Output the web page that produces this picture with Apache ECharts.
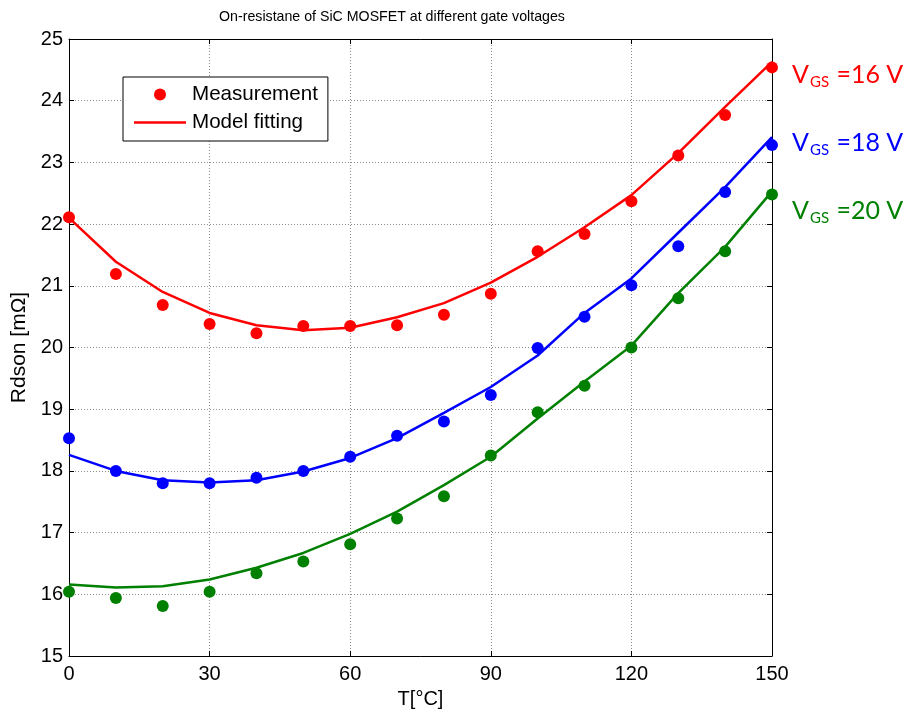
<!DOCTYPE html>
<html>
<head>
<meta charset="utf-8">
<script src="https://cdn.jsdelivr.net/npm/echarts@6/dist/echarts.min.js"></script>
<style>
  html, body { margin: 0; padding: 0; background: #fff; }
  #chart { width: 908px; height: 715px; }
</style>
</head>
<body>
<div id="chart"></div>
<script>
// temperatures, degC
var temps = [0, 10, 20, 30, 40, 50, 60, 70, 80, 90, 100, 110, 120, 130, 140, 150];

// measured Rdson, mOhm
var meas16 = [22.11, 21.19, 20.69, 20.38, 20.23, 20.35, 20.35, 20.36, 20.53, 20.87, 21.56, 21.84, 22.37, 23.11, 23.77, 24.54];
var meas18 = [18.53, 18.0, 17.8, 17.8, 17.89, 18.0, 18.23, 18.57, 18.8, 19.23, 19.99, 20.5, 21.01, 21.64, 22.52, 23.28];
var meas20 = [16.04, 15.94, 15.81, 16.04, 16.34, 16.53, 16.81, 17.23, 17.59, 18.25, 18.95, 19.38, 20.0, 20.8, 21.56, 22.48];

// model fitting
var fit16 = [22.1, 21.39, 20.9, 20.56, 20.36, 20.28, 20.32, 20.49, 20.72, 21.05, 21.47, 21.95, 22.47, 23.15, 23.9, 24.63];
var fit18 = [18.26, 18.0, 17.85, 17.81, 17.85, 17.99, 18.21, 18.53, 18.94, 19.36, 19.87, 20.56, 21.12, 21.86, 22.6, 23.41];
var fit20 = [16.16, 16.11, 16.13, 16.24, 16.43, 16.67, 16.98, 17.34, 17.77, 18.23, 18.85, 19.45, 20.03, 20.88, 21.63, 22.53];

var vgsLabels = ['16', '18', '20'];
var colors = ['#ff0000', '#0000ff', '#008000'];

function pairs(ys) {
  return temps.map(function (t, i) { return [t, ys[i]]; });
}

var chart = echarts.init(document.getElementById('chart'));

var font = 'Liberation Sans, Arial, sans-serif';

var gridLine = { show: true, lineStyle: { color: '#8c8c8c', type: [1, 2], width: 1 } };

function axisBase() {
  return {
    axisLine: { show: true, onZero: false, lineStyle: { color: '#000', width: 1 } },
    axisTick: { show: true, inside: true, length: 5, lineStyle: { color: '#000' } },
    axisLabel: { color: '#000', fontSize: 20, fontFamily: font, margin: 8 },
    nameTextStyle: { color: '#000', fontSize: 20, fontFamily: font }
  };
}

var xMain = axisBase();
Object.assign(xMain, {
  type: 'value', min: 0, max: 150, interval: 30, position: 'bottom',
  name: 'T[°C]', nameLocation: 'middle', nameGap: 33,
  splitLine: gridLine
});
var xTop = axisBase();
Object.assign(xTop, {
  type: 'value', min: 0, max: 150, interval: 30, position: 'top',
  axisLabel: { show: false }, splitLine: { show: false }
});
var yMain = axisBase();
Object.assign(yMain, {
  type: 'value', min: 15, max: 25, interval: 1, position: 'left',
  name: 'Rdson [mΩ]', nameLocation: 'middle', nameGap: 38,
  splitLine: gridLine
});
yMain.axisLabel.margin = 6;
yMain.nameTextStyle.fontSize = 21;
var yRight = axisBase();
Object.assign(yRight, {
  type: 'value', min: 15, max: 25, interval: 1, position: 'right',
  axisLabel: { show: false }, splitLine: { show: false }
});

var series = [];
var measSets = [meas16, meas18, meas20];
var fitSets = [fit16, fit18, fit20];
for (var i = 0; i < 3; i++) {
  series.push({
    name: i === 0 ? 'Model fitting' : 'fit' + vgsLabels[i],
    type: 'line',
    data: pairs(fitSets[i]),
    symbol: 'none',
    lineStyle: { color: colors[i], width: 2.5 },
    itemStyle: { color: colors[i] },
    z: 2
  });
  series.push({
    name: i === 0 ? 'Measurement' : 'meas' + vgsLabels[i],
    type: 'scatter',
    data: pairs(measSets[i]),
    symbol: 'circle',
    symbolSize: 12,
    itemStyle: { color: colors[i], opacity: 1 },
    z: 3
  });
}

var labelTop = [62, 130, 198];
var graphics = vgsLabels.map(function (v, i) {
  return {
    type: 'text',
    left: 792,
    top: labelTop[i],
    style: {
      text: '{a|V}{b|GS}{a| =' + v + ' V}',
      fill: colors[i],
      rich: {
        a: { fontSize: 25, fontFamily: 'Lato, sans-serif', fill: colors[i], verticalAlign: 'bottom' },
        b: { fontSize: 15, fontFamily: 'Lato, sans-serif', fill: colors[i], verticalAlign: 'bottom', padding: [0, 1, -3, 1] }
      }
    }
  };
});

var option = {
  animation: false,
  backgroundColor: '#fff',
  title: {
    text: 'On-resistane of SiC MOSFET at different gate voltages',
    left: 387, top: 5, textAlign: 'center',
    textStyle: { fontSize: 14.2, fontWeight: 'normal', color: '#000', fontFamily: font }
  },
  grid: { left: 69, right: 136, top: 39, bottom: 59 },
  legend: {
    data: [
      { name: 'Measurement', icon: 'circle' },
      { name: 'Model fitting', icon: 'path://M0,0L52,0L52,2.5L0,2.5Z' }
    ],
    orient: 'vertical',
    left: 123, top: 77,
    itemWidth: 52, itemHeight: 12, itemGap: 7,
    padding: [7, 10, 8, 11],
    backgroundColor: '#fff',
    borderColor: '#000', borderWidth: 1,
    textStyle: { fontSize: 20.6, color: '#000', fontFamily: font, padding: [0, 0, 0, 1] }
  },
  xAxis: [xMain, xTop],
  yAxis: [yMain, yRight],
  series: series,
  graphic: graphics
};

chart.setOption(option);
</script>
</body>
</html>
